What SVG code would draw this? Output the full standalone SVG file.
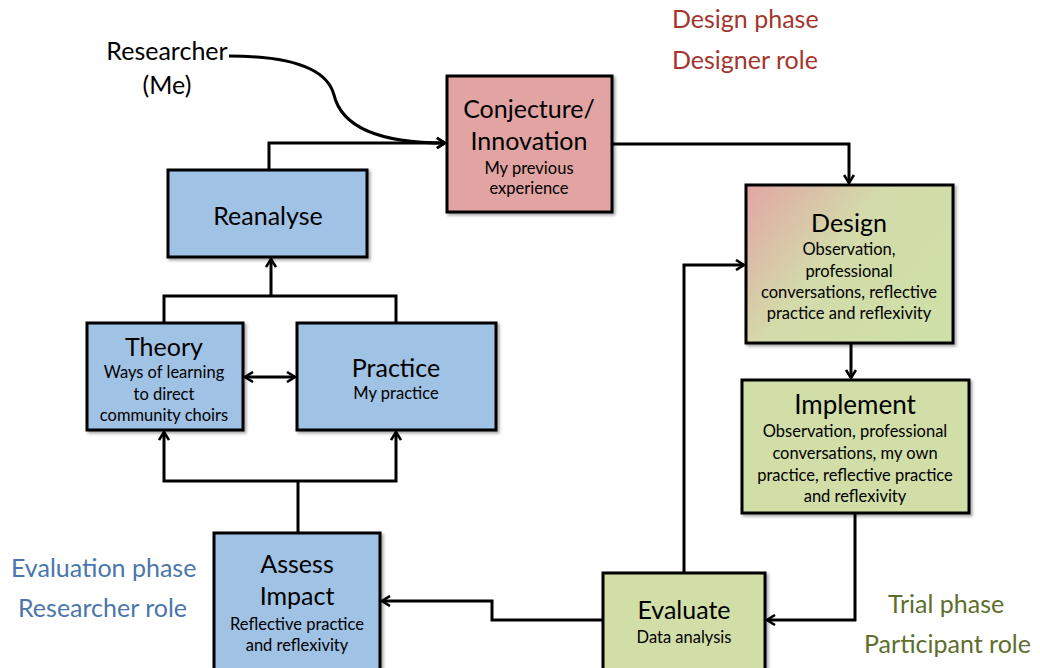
<svg xmlns="http://www.w3.org/2000/svg" width="1040" height="668" viewBox="0 0 1040 668">
<defs>
<marker id="ah" viewBox="0 0 12 12" refX="10" refY="6" markerWidth="12" markerHeight="12" markerUnits="userSpaceOnUse" orient="auto-start-reverse">
<path d="M2,1 L10,6 L2,11" fill="none" stroke="#000" stroke-width="2.6"/>
</marker>
<linearGradient id="dg" x1="0" y1="0" x2="1" y2="0.6">
<stop offset="0" stop-color="#E2A5A4"/>
<stop offset="0.5" stop-color="#D3DBAA"/>
<stop offset="1" stop-color="#CFDFA8"/>
</linearGradient>
<filter id="sh" x="-5%" y="-5%" width="115%" height="115%">
<feDropShadow dx="2" dy="2" stdDeviation="1.5" flood-color="#000" flood-opacity="0.35"/>
</filter>
</defs>
<style>
.box{stroke:#000;stroke-width:3;filter:url(#sh)}
.blue{fill:#A0C2E5}
.pink{fill:#E1A4A3}
.green{fill:#D1DEA7}
.t{font-family:Lato,"Open Sans",sans-serif;fill:#000;text-anchor:middle}
.h{font-size:25px}
.s{font-size:16.5px}
.c{fill:none;stroke:#000;stroke-width:3}
.lab{font-family:Lato,"Open Sans",sans-serif;font-size:25px}
</style>
<rect width="1040" height="668" fill="#fff"/>

<g id="connectors">
<path class="c" d="M229,56 C300,56 328,72 334,95 C342,128 380,143 445,143" marker-end="url(#ah)"/>
<path class="c" d="M269,170 V143 H445" marker-end="url(#ah)"/>
<path class="c" d="M612,144 H849 V183" marker-end="url(#ah)"/>
<path class="c" d="M851,343 V378" marker-end="url(#ah)"/>
<path class="c" d="M855,513 V620 H767" marker-end="url(#ah)"/>
<path class="c" d="M684,572 V265 H744" marker-end="url(#ah)"/>
<path class="c" d="M603,620 H492 V601 H382" marker-end="url(#ah)"/>
<path class="c" d="M298,533 V481"/>
<path class="c" d="M164,432 V481 H396 V432" marker-start="url(#ah)" marker-end="url(#ah)"/>
<path class="c" d="M164,323 V296 H396 V323"/>
<path class="c" d="M271,296 V259" marker-end="url(#ah)"/>
<path class="c" d="M245,377 H295" marker-start="url(#ah)" marker-end="url(#ah)"/>
</g>

<g id="researcher">
<text class="t" x="167" y="60" font-size="25">Researcher</text>
<text class="t" x="167" y="94" font-size="25">(Me)</text>
</g>

<g id="conjecture">
<rect class="box pink" x="447" y="76" width="165" height="136"/>
<text class="t h" x="529" y="118">Conjecture/</text>
<text class="t h" x="529" y="150">Innovation</text>
<text class="t s" x="529" y="174">My previous</text>
<text class="t s" x="529" y="194">experience</text>
</g>

<g id="reanalyse">
<rect class="box blue" x="168" y="170" width="199" height="87"/>
<text class="t" x="268" y="225" font-size="25">Reanalyse</text>
</g>

<g id="theory">
<rect class="box blue" x="87" y="323" width="156" height="107"/>
<text class="t h" x="164" y="356">Theory</text>
<text class="t s" x="164" y="378">Ways of learning</text>
<text class="t s" x="164" y="400">to direct</text>
<text class="t s" x="164" y="421">community choirs</text>
</g>

<g id="practice">
<rect class="box blue" x="297" y="323" width="199" height="107"/>
<text class="t h" x="396" y="377">Practice</text>
<text class="t s" x="396" y="399">My practice</text>
</g>

<g id="assess">
<rect class="box blue" x="214" y="533" width="166" height="140"/>
<text class="t h" x="297" y="573">Assess</text>
<text class="t h" x="297" y="605">Impact</text>
<text class="t s" x="297" y="630">Reflective practice</text>
<text class="t s" x="297" y="651">and reflexivity</text>
</g>

<g id="design">
<rect class="box" fill="url(#dg)" x="746" y="185" width="207" height="158"/>
<text class="t h" x="849" y="232">Design</text>
<text class="t s" x="849" y="255">Observation,</text>
<text class="t s" x="849" y="277">professional</text>
<text class="t s" x="849" y="298">conversations, reflective</text>
<text class="t s" x="849" y="319">practice and reflexivity</text>
</g>

<g id="implement">
<rect class="box green" x="742" y="380" width="227" height="133"/>
<text class="t" x="855" y="414" font-size="26">Implement</text>
<text class="t s" x="855" y="437">Observation, professional</text>
<text class="t s" x="855" y="459">conversations, my own</text>
<text class="t s" x="855" y="481">practice, reflective practice</text>
<text class="t s" x="855" y="502">and reflexivity</text>
</g>

<g id="evaluate">
<rect class="box green" x="603" y="573" width="162" height="100"/>
<text class="t h" x="684" y="619">Evaluate</text>
<text class="t s" x="684" y="643">Data analysis</text>
</g>

<g id="phase-labels">
<text class="lab" x="672" y="28" fill="#A3352E">Design phase</text>
<text class="lab" x="672" y="69" fill="#A3352E">Designer role</text>
<text class="lab" x="11" y="577" fill="#4A76AC">Evaluation phase</text>
<text class="lab" x="18" y="617" fill="#4A76AC">Researcher role</text>
<text class="lab" x="888" y="613" fill="#5E6E2C">Trial phase</text>
<text class="lab" x="864" y="653" fill="#5E6E2C">Participant role</text>
</g>
</svg>
